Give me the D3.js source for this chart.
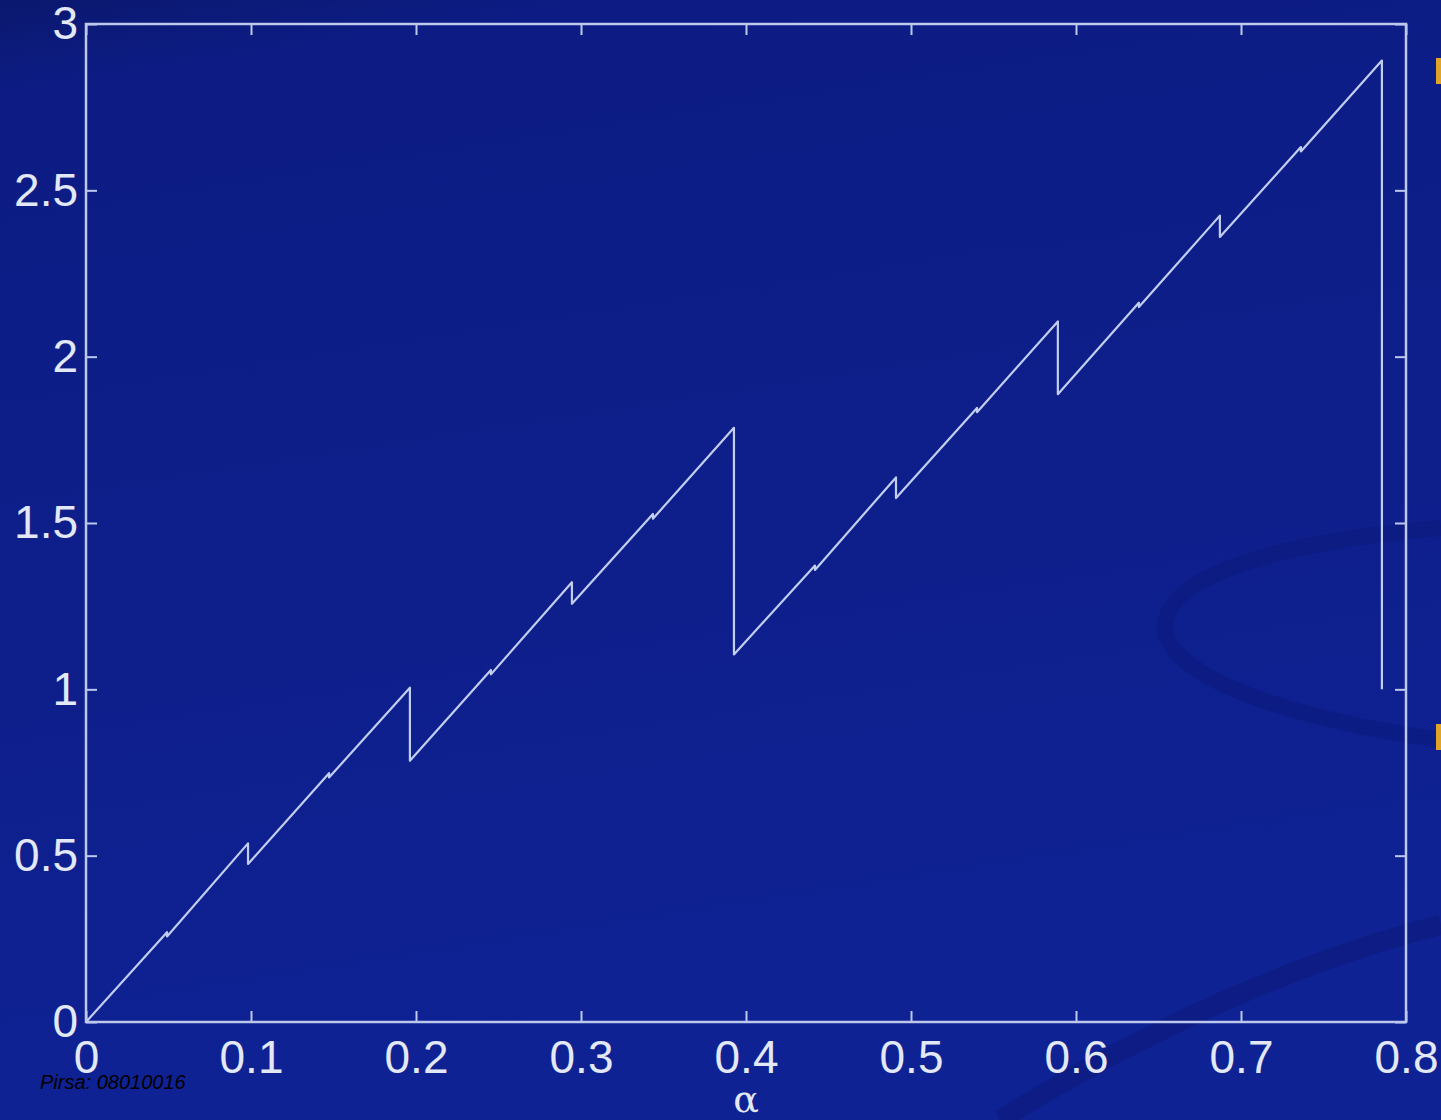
<!DOCTYPE html>
<html>
<head>
<meta charset="utf-8">
<script src="https://cdn.jsdelivr.net/npm/d3@7"></script>
<style>
  html, body { margin: 0; padding: 0; background: #0d1c86; overflow: hidden; }
  svg { display: block; }
</style>
</head>
<body>
<svg id="chart" width="1441" height="1120"></svg>
<script>
// alpha (x) and value (y) of each vertex; repeated x = vertical drop
const alphaPoints = [
  0, 0.0491, 0.0491, 0.0982, 0.0982, 0.1473, 0.1473, 0.1963, 0.1963,
  0.2454, 0.2454, 0.2945, 0.2945, 0.3436, 0.3436, 0.3927, 0.3927,
  0.4418, 0.4418, 0.4909, 0.4909, 0.5400, 0.5400, 0.5890, 0.5890,
  0.6381, 0.6381, 0.6872, 0.6872, 0.7363, 0.7363, 0.7854, 0.7854
];
const valuePoints = [
  0, 0.270, 0.257, 0.537, 0.475, 0.748, 0.735, 1.005, 0.785,
  1.058, 1.045, 1.322, 1.257, 1.527, 1.513, 1.786, 1.105,
  1.372, 1.359, 1.637, 1.575, 1.846, 1.833, 2.106, 1.887,
  2.162, 2.149, 2.424, 2.360, 2.630, 2.617, 2.890, 1.000
];
const xTicks = [0, 0.1, 0.2, 0.3, 0.4, 0.5, 0.6, 0.7, 0.8];
const xTickLabels = ['0', '0.1', '0.2', '0.3', '0.4', '0.5', '0.6', '0.7', '0.8'];
const yTicks = [0, 0.5, 1, 1.5, 2, 2.5, 3];
const yTickLabels = ['0', '0.5', '1', '1.5', '2', '2.5', '3'];
const xTitle = 'α';
const sourceNote = 'Pirsa: 08010016';

const svg = d3.select('#chart');
const width = +svg.attr('width');
const height = +svg.attr('height');
const margin = { left: 86, right: 35, top: 24, bottom: 98 };
const innerW = width - margin.left - margin.right;
const innerH = height - margin.top - margin.bottom;

const axisColor = '#bcc8ec';
const labelColor = '#e2e8f6';

// slide background
const defs = svg.append('defs');
const bg = defs.append('linearGradient')
  .attr('id', 'bg')
  .attr('x1', 0).attr('y1', 0).attr('x2', 0.2).attr('y2', 1);
bg.append('stop').attr('offset', '0%').attr('stop-color', '#0a186e');
bg.append('stop').attr('offset', '8%').attr('stop-color', '#0d1c84');
bg.append('stop').attr('offset', '60%').attr('stop-color', '#0e1f8c');
bg.append('stop').attr('offset', '100%').attr('stop-color', '#0f2294');

svg.append('rect')
  .attr('width', width)
  .attr('height', height)
  .attr('fill', 'url(#bg)');

// faint swoosh shapes from the slide template
const swoosh = svg.append('g')
  .attr('fill', 'none')
  .attr('stroke', '#0b1a7c')
  .attr('stroke-opacity', 0.55);
swoosh.append('path')
  .attr('stroke-width', 16)
  .attr('d', 'M1441,528 C1300,540 1170,570 1165,625 C1165,680 1300,720 1441,740');
swoosh.append('path')
  .attr('stroke-width', 20)
  .attr('stroke-opacity', 0.6)
  .attr('d', 'M1000,1120 C1160,1020 1320,955 1441,925');

// orange bullet fragments at the right edge
svg.append('g').selectAll('rect')
  .data([58, 724])
  .join('rect')
  .attr('x', 1436)
  .attr('y', d => d)
  .attr('width', 6)
  .attr('height', 26)
  .attr('fill', '#e0a428');

const x = d3.scaleLinear().domain([0, 0.8]).range([0, innerW]);
const y = d3.scaleLinear().domain([0, 3]).range([innerH, 0]);

const g = svg.append('g')
  .attr('transform', `translate(${margin.left},${margin.top})`);

const fontFamily = '"Liberation Sans", Arial, sans-serif';

function styleAxis(sel, showLabels) {
  sel.select('.domain').remove();
  sel.selectAll('.tick line')
    .attr('stroke', axisColor)
    .attr('stroke-width', 2);
  sel.selectAll('.tick text')
    .attr('fill', labelColor)
    .style('font-family', fontFamily)
    .style('font-size', '46px')
    .style('display', showLabels ? null : 'none');
}

g.append('g')
  .attr('transform', `translate(0,${innerH})`)
  .call(d3.axisBottom(x).tickValues(xTicks)
    .tickFormat((d, i) => xTickLabels[i])
    .tickSizeInner(-11).tickSizeOuter(0).tickPadding(18))
  .call(sel => styleAxis(sel, true));

g.append('g')
  .call(d3.axisTop(x).tickValues(xTicks)
    .tickSizeInner(-11).tickSizeOuter(0))
  .call(sel => styleAxis(sel, false));

g.append('g')
  .call(d3.axisLeft(y).tickValues(yTicks)
    .tickFormat((d, i) => yTickLabels[i])
    .tickSizeInner(-11).tickSizeOuter(0).tickPadding(8))
  .call(sel => styleAxis(sel, true));

g.append('g')
  .attr('transform', `translate(${innerW},0)`)
  .call(d3.axisRight(y).tickValues(yTicks)
    .tickSizeInner(-11).tickSizeOuter(0))
  .call(sel => styleAxis(sel, false));

// plot frame
g.append('rect')
  .attr('width', innerW)
  .attr('height', innerH)
  .attr('fill', 'none')
  .attr('stroke', axisColor)
  .attr('stroke-width', 2.5);

// the sawtooth curve
const pts = alphaPoints.map((a, i) => [a, valuePoints[i]]);
const line = d3.line()
  .x(d => x(d[0]))
  .y(d => y(d[1]));

g.append('path')
  .datum(pts)
  .attr('d', line)
  .attr('fill', 'none')
  .attr('stroke', '#c2cef0')
  .attr('stroke-width', 2.2)
  .attr('stroke-linejoin', 'round');

// x axis title
svg.append('text')
  .attr('x', margin.left + x(0.4))
  .attr('y', 1112)
  .attr('text-anchor', 'middle')
  .attr('fill', labelColor)
  .style('font-family', '"DejaVu Serif", "Liberation Serif", serif')
  .style('font-size', '38px')
  .text(xTitle);

// source note
svg.append('text')
  .attr('x', 40)
  .attr('y', 1089)
  .attr('fill', '#000000')
  .style('font-family', fontFamily)
  .style('font-style', 'italic')
  .style('font-size', '20px')
  .text(sourceNote);
</script>
</body>
</html>
